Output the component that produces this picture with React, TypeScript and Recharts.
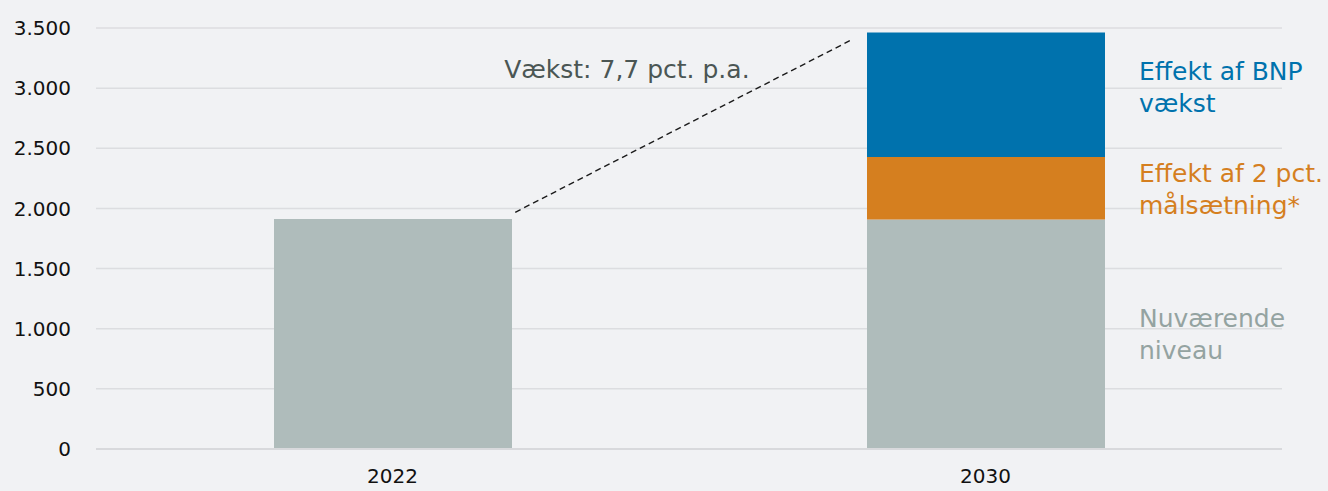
import { BarChart, Bar, XAxis, YAxis, CartesianGrid, ReferenceLine, ReferenceDot } from 'recharts';

const years = ['2022', '2030'];
const yearPos = [0.5, 1.5];
const currentLevel = [1912, 1907];
const targetEffect = [0, 520];
const gdpEffect = [0, 1036];
const yTicks = [0, 500, 1000, 1500, 2000, 2500, 3000, 3500];

// growth annotation, in chart units (x: 0..2 across the two categories)
const growthLineX = [0.707, 1.275];
const growthLineY = [1968, 3404];
const growthText = 'Vækst: 7,7 pct. p.a.';
const growthTextPos = { x: 0.69, y: 3072 };

const labelCurrent = ['Nuværende', 'niveau'];
const labelTarget = ['Effekt af 2 pct.', 'målsætning*'];
const labelGdp = ['Effekt af BNP', 'vækst'];

const data = years.map((year, i) => ({
  year,
  pos: yearPos[i],
  current: currentLevel[i],
  target: targetEffect[i],
  gdp: gdpEffect[i],
}));

const font = '"DejaVu Sans", sans-serif';
const fmt = (v: number) => v.toLocaleString('da-DK');
const yearAt = (v: number) => years[yearPos.indexOf(v)] ?? '';

const sideLabel = (lines: string[], color: string, shift: number, onlyIndex: number | null) => (props: any) => {
  const vb = props.viewBox || props;
  const h = Math.abs(Number(vb.height));
  if (!h) return null;
  if (onlyIndex !== null && props.index !== onlyIndex) return null;
  const x = Number(vb.x) + Number(vb.width) + 34;
  const top = Math.min(Number(vb.y), Number(vb.y) + Number(vb.height));
  const base = top + h / 2 + shift;
  return (
    <text x={x} y={base} fill={color} fontSize={25} fontFamily={font}>
      {lines.map((l, i) => (
        <tspan key={i} x={x} y={base + i * 32}>
          {l}
        </tspan>
      ))}
    </text>
  );
};

const growthLabel = (props: any) => {
  const vb = props.viewBox || props;
  return (
    <text x={vb.x} y={vb.y} fill="#4b5654" fontSize={25} fontFamily={font}>
      {growthText}
    </text>
  );
};

export default function App() {
  return (
    <div style={{ position: 'absolute', left: 0, top: 0, width: 1328, height: 491, background: '#f1f2f4' }}>
      <BarChart width={1328} height={491} data={data} margin={{ top: 28, right: 46, bottom: 0, left: 0 }}>
        <CartesianGrid vertical={false} stroke="#dcdde0" strokeWidth={1.5} />
        <XAxis
          dataKey="pos"
          type="number"
          domain={[0, 2]}
          ticks={yearPos}
          tickFormatter={yearAt}
          allowDataOverflow
          height={42}
          tickLine={false}
          tickSize={0}
          tickMargin={20}
          axisLine={{ stroke: '#d8d9dc', strokeWidth: 2 }}
          tick={{ fill: '#111', fontSize: 20, fontFamily: font }}
        />
        <YAxis
          width={96}
          domain={[0, 3500]}
          ticks={yTicks}
          tickFormatter={fmt}
          axisLine={false}
          tickLine={false}
          tickSize={0}
          tickMargin={25}
          tick={{ fill: '#111', fontSize: 20, fontFamily: font }}
        />
        <Bar dataKey="current" stackId="a" fill="#afbcbb" barSize={238} isAnimationActive={false} label={sideLabel(labelCurrent, '#94a3a1', -7, 1)} />
        <Bar dataKey="target" stackId="a" fill="#d57f1f" barSize={238} isAnimationActive={false} label={sideLabel(labelTarget, '#d57f1f', -6, null)} />
        <Bar dataKey="gdp" stackId="a" fill="#0072ad" barSize={238} isAnimationActive={false} label={sideLabel(labelGdp, '#0072ad', -15, null)} />
        <ReferenceLine
          segment={[
            { x: growthLineX[0], y: growthLineY[0] },
            { x: growthLineX[1], y: growthLineY[1] },
          ]}
          stroke="#1a1a1a"
          strokeWidth={1.4}
          strokeDasharray="6 4"
          ifOverflow="visible"
        />
        <ReferenceDot
          x={growthTextPos.x}
          y={growthTextPos.y}
          r={1}
          fill="none"
          stroke="none"
          ifOverflow="visible"
          label={growthLabel}
        />
      </BarChart>
    </div>
  );
}
